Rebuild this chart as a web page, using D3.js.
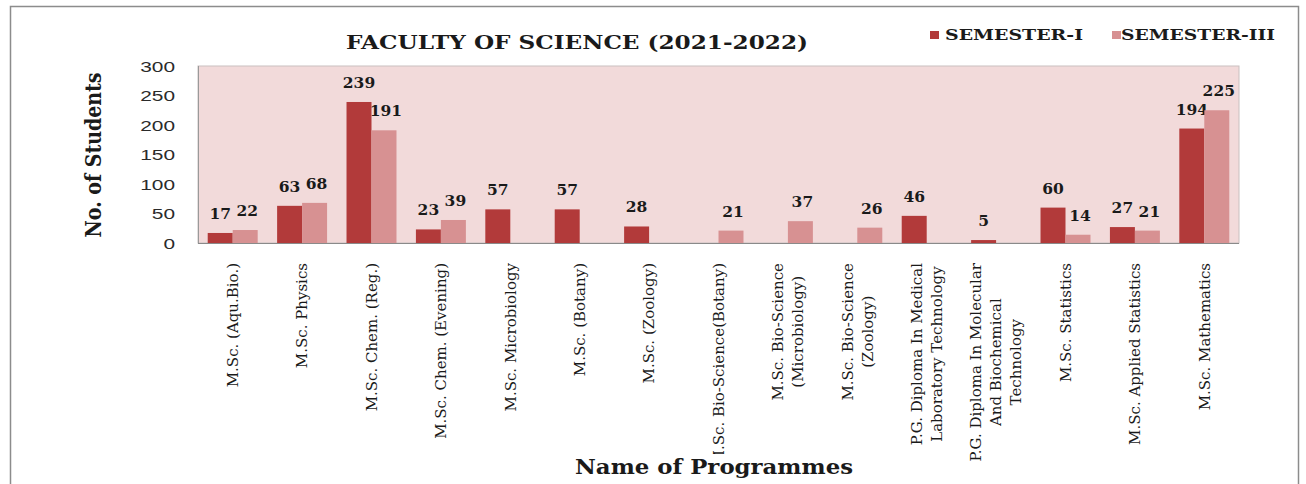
<!DOCTYPE html>
<html><head><meta charset="utf-8">
<script src="https://cdn.jsdelivr.net/npm/d3@7"></script>
<style>html,body{margin:0;padding:0;background:#fff;} svg{display:block;}</style>
</head><body>
<svg id="chart" width="1306" height="484"></svg>
<script>
const categories = [
  "M.Sc. (Aqu.Bio.)",
  "M.Sc. Physics",
  "M.Sc. Chem. (Reg.)",
  "M.Sc. Chem. (Evening)",
  "M.Sc. Microbiology",
  "M.Sc. (Botany)",
  "M.Sc. (Zoology)",
  "M.Sc. Bio-Science(Botany)",
  "M.Sc. Bio-Science\n(Microbiology)",
  "M.Sc. Bio-Science\n(Zoology)",
  "P.G. Diploma In Medical\nLaboratory Technology",
  "P.G. Diploma In Molecular\nAnd Biochemical\nTechnology",
  "M.Sc. Statistics",
  "M.Sc. Applied  Statistics",
  "M.Sc. Mathematics"
];
const seriesNames = ["SEMESTER-I", "SEMESTER-III"];
const semester1 = [17, 63, 239, 23, 57, 57, 28, null, null, null, 46, 5, 60, 27, 194];
const semester3 = [22, 68, 191, 39, null, null, null, 21, 37, 26, null, null, 14, 21, 225];
const yTicks = [0, 50, 100, 150, 200, 250, 300];
const titleText = "FACULTY OF SCIENCE (2021-2022)";
const yTitle = "No. of Students";
const xTitle = "Name of Programmes";

const colors = ["#b23a3a", "#d79192"];
const svg = d3.select("#chart");
const plot = {left: 198, right: 1239, top: 66, bottom: 243};

// outer frame
svg.append("rect").attr("x", 10.5).attr("y", 6.5).attr("width", 1288).attr("height", 490)
  .attr("fill", "#fff").attr("stroke", "#8c8c8c").attr("stroke-width", 1.5);

const x0 = d3.scaleBand().domain(d3.range(categories.length))
  .range([plot.left, plot.right]).paddingInner(0.28).paddingOuter(0.14);
const x1 = d3.scaleBand().domain([0, 1]).range([0, x0.bandwidth()]);
const y = d3.scaleLinear().domain([0, 300]).range([plot.bottom, plot.top]);

// plot area
svg.append("rect").attr("x", plot.left).attr("y", plot.top)
  .attr("width", plot.right - plot.left).attr("height", plot.bottom - plot.top)
  .attr("fill", "#f2dada").attr("stroke", "#c9c0c0").attr("stroke-width", 1);
svg.append("line").attr("x1", plot.left).attr("x2", plot.right)
  .attr("y1", plot.bottom + 0.5).attr("y2", plot.bottom + 0.5)
  .attr("stroke", "#8a8a8a").attr("stroke-width", 1.2);
svg.append("line").attr("x1", plot.left + 0.5).attr("x2", plot.left + 0.5)
  .attr("y1", plot.top).attr("y2", plot.bottom)
  .attr("stroke", "#9a9a9a").attr("stroke-width", 1);

// y tick labels
const yAxis = d3.axisLeft(y).tickValues(yTicks).tickSize(0).tickPadding(0);
const yg = svg.append("g").attr("transform", `translate(175,0)`).call(yAxis);
yg.select(".domain").remove();
yg.selectAll("text")
  .attr("font-family", "Liberation Sans, Arial, sans-serif")
  .attr("font-size", 15).attr("fill", "#2a2a2a").attr("dy", "0.36em")
  .attr("textLength", d => String(d).length * 11.6)
  .attr("lengthAdjust", "spacingAndGlyphs");

// bars
const series = [semester1, semester3];
series.forEach((vals, si) => {
  const g = svg.append("g");
  vals.forEach((v, i) => {
    if (v == null) return;
    const bx = x0(i) + x1(si);
    g.append("rect").attr("x", bx).attr("y", y(v))
      .attr("width", x1.bandwidth()).attr("height", y(0) - y(v))
      .attr("fill", colors[si]);
    g.append("text").attr("x", bx + x1.bandwidth() / 2 + (si ? 2 : 0)).attr("y", y(v) - 14)
      .attr("text-anchor", "middle")
      .attr("font-family", "DejaVu Serif, serif").attr("font-weight", "bold")
      .attr("font-size", 15.5).attr("fill", "#1a1a1a")
      .text(v);
  });
});

// x category labels (rotated)
const labTop = 263, lineGap = 20;
categories.forEach((c, i) => {
  const lines = c.split("\n");
  const cx = x0(i) + x0.bandwidth() / 2;
  const g = svg.append("g").attr("transform", `translate(${cx},${labTop}) rotate(-90)`);
  const texts = lines.map((ln, k) => g.append("text")
    .attr("font-family", "DejaVu Serif, serif").attr("font-size", 15)
    .attr("fill", "#1a1a1a")
    .attr("y", (k - (lines.length - 1) / 2) * lineGap)
    .attr("dy", "0.35em")
    .text(ln));
  const maxLen = d3.max(texts, t => t.node().getComputedTextLength());
  texts.forEach(t => t.attr("text-anchor", "middle").attr("x", -maxLen / 2));
});

// x axis title with white background
svg.append("rect").attr("x", 568).attr("y", 454).attr("width", 292).attr("height", 30).attr("fill", "#fff");
svg.append("text").attr("x", 714).attr("y", 474).attr("text-anchor", "middle")
  .attr("font-family", "DejaVu Serif, serif").attr("font-weight", "bold")
  .attr("font-size", 20).attr("fill", "#1a1a1a")
  .attr("textLength", 278).attr("lengthAdjust", "spacingAndGlyphs")
  .text(xTitle);

// y axis title
svg.append("g").attr("transform", `translate(101,155) scale(1.35,1) rotate(-90)`)
  .append("text").attr("text-anchor", "middle")
  .attr("font-family", "DejaVu Serif, serif").attr("font-weight", "bold")
  .attr("font-size", 17).attr("fill", "#1a1a1a")
  .attr("textLength", 165).attr("lengthAdjust", "spacingAndGlyphs")
  .text(yTitle);

// chart title
svg.append("text").attr("x", 577).attr("y", 49).attr("text-anchor", "middle")
  .attr("font-family", "DejaVu Serif, serif").attr("font-weight", "bold")
  .attr("font-size", 19).attr("fill", "#1a1a1a")
  .attr("textLength", 462).attr("lengthAdjust", "spacingAndGlyphs")
  .text(titleText);

// legend
const legend = [{x: 930, tx: 945, tl: 138}, {x: 1112, tx: 1121, tl: 154}];
legend.forEach((l, i) => {
  svg.append("rect").attr("x", l.x).attr("y", 31).attr("width", 9).attr("height", 8).attr("fill", colors[i]);
  svg.append("text").attr("x", l.tx).attr("y", 40)
    .attr("font-family", "DejaVu Serif, serif").attr("font-weight", "bold")
    .attr("font-size", 14).attr("fill", "#1a1a1a")
    .attr("textLength", l.tl).attr("lengthAdjust", "spacingAndGlyphs")
    .text(seriesNames[i]);
});
</script>
</body></html>
